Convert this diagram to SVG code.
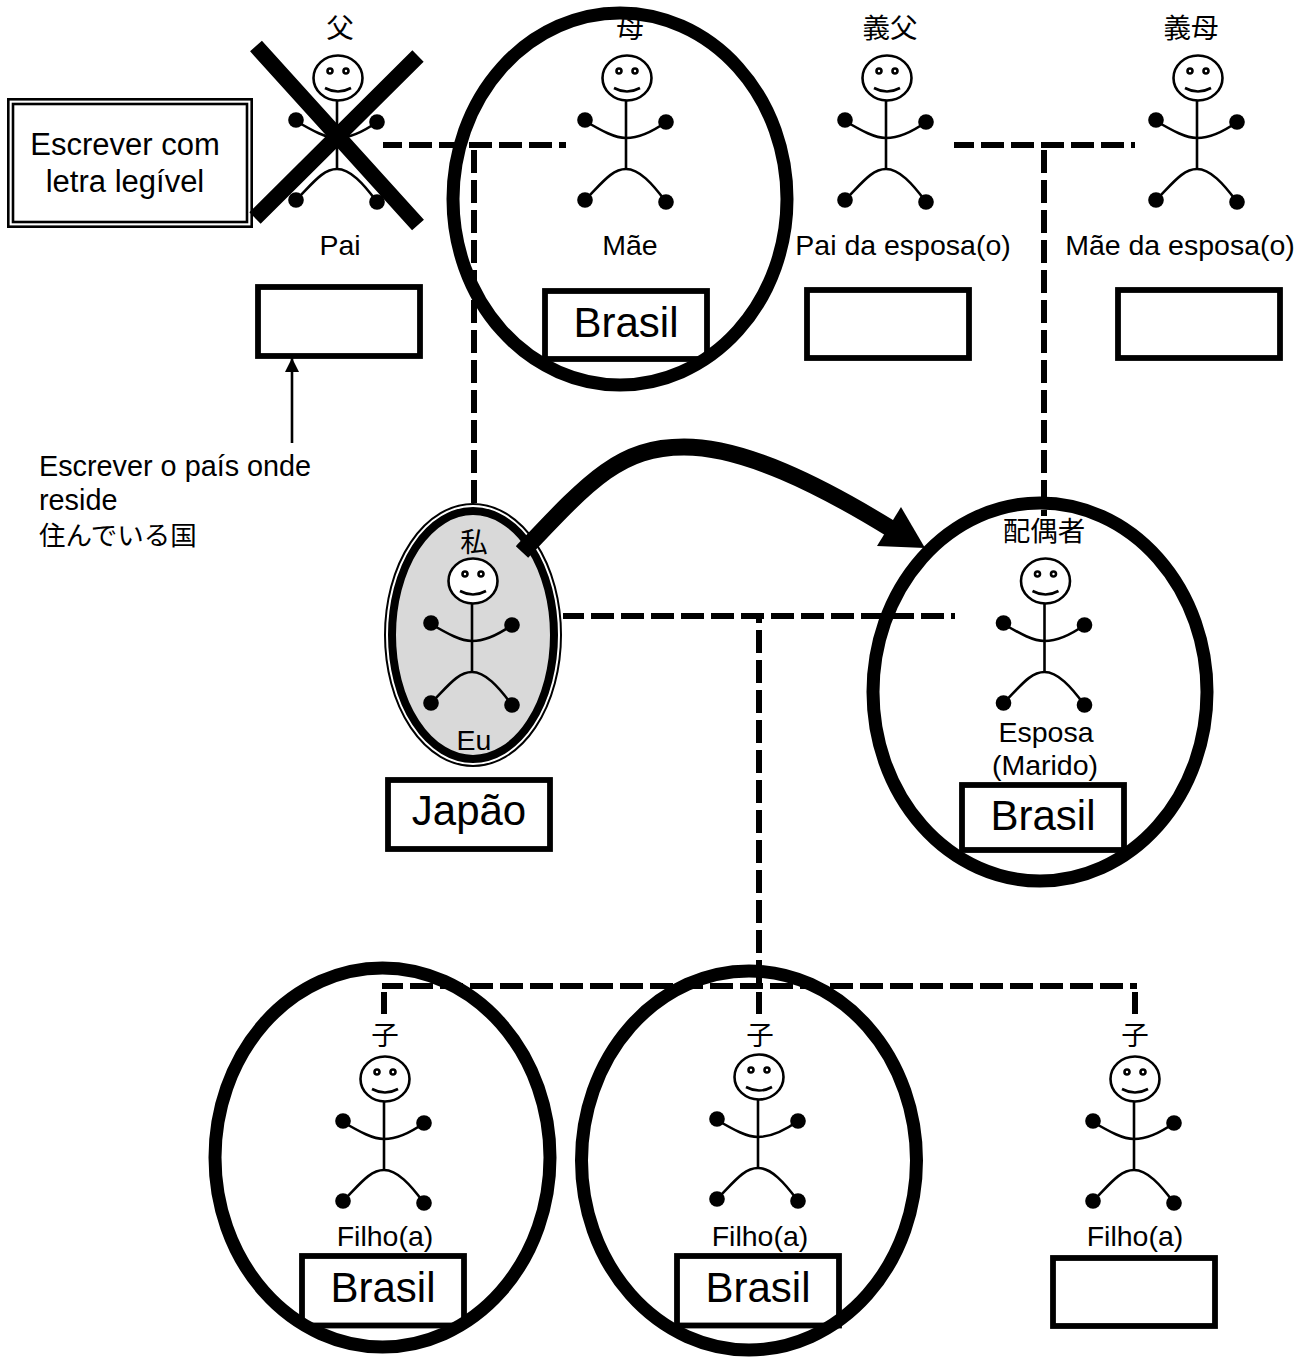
<svg xmlns="http://www.w3.org/2000/svg" xmlns:xlink="http://www.w3.org/1999/xlink" width="1298" height="1357" viewBox="0 0 1298 1357">
<style>
text{font-family:"Liberation Sans","Noto Sans CJK JP",sans-serif;fill:#000;text-anchor:middle}
.l{font-size:28.500px}
.n{font-size:31px}
.j{font-size:27.500px;font-family:"Noto Sans CJK JP",sans-serif}
.c{font-size:42px}
.s{font-size:28.800px;text-anchor:start}
.js{font-size:26.500px;font-family:"Noto Sans CJK JP",sans-serif;text-anchor:start}
.box{fill:#fff;stroke:#000;stroke-width:5.800}
.ring{fill:none;stroke:#000;stroke-width:13}
.dash{fill:none;stroke:#000;stroke-width:6;stroke-dasharray:23 7}
.solid{fill:none;stroke:#000;stroke-width:6}
.f{fill:none;stroke:#000;stroke-width:2.600}
.h{fill:#000;stroke:none}
</style>
<defs>
<marker id="a" markerUnits="userSpaceOnUse" markerWidth="16" markerHeight="14" refX="14" refY="7" orient="auto"><path d="M0,0L14,7L0,14z" fill="#000"/></marker>
<g id="fig">
<ellipse cx="0" cy="0" rx="24.500" ry="22.500" fill="#fff" stroke="#000" stroke-width="2.600"/>
<circle class="f" cx="-8" cy="-7" r="2.500"/><circle class="f" cx="8" cy="-7" r="2.500"/>
<path class="f" d="M-13,10Q0,17 13,10"/>
<path class="f" d="M-1,23V90"/>
<path class="f" d="M-42,43C-25,53 -12,60 -1,60C12,60 25,54 39,44"/>
<path class="f" d="M-42,122C-25,105 -15,91 -1,91C12,91 25,105 39,124"/>
<circle class="h" cx="-42" cy="42" r="7.800"/><circle class="h" cx="39" cy="44" r="7.800"/>
<circle class="h" cx="-42" cy="122" r="7.800"/><circle class="h" cx="39" cy="124" r="7.800"/>
</g>
</defs>
<g id="connectors">
<path class="dash" d="M383,145H566" stroke-dashoffset="4"/>
<path class="dash" d="M474,150V510"/>
<path class="dash" d="M954,145H1135" stroke-dashoffset="3"/>
<path class="dash" d="M1044,150V516"/>
<path class="dash" d="M563,616H955" stroke-dashoffset="2"/>
<path class="dash" d="M759,616V985" stroke-dashoffset="16"/>
<path class="solid" d="M759,992V1014"/>
<path class="dash" d="M382,986H1137" stroke-dashoffset="2"/>
<path class="solid" d="M384,992V1014"/>
<path class="solid" d="M1135,992V1014"/>
<path d="M292,443V358" fill="none" stroke="#000" stroke-width="2.600" marker-end="url(#a)"/>
</g>
<g id="note"><rect x="8.300" y="99.300" width="243.400" height="127.400" fill="#fff" stroke="#000" stroke-width="2.600"/><rect x="13" y="104" width="234" height="118" fill="none" stroke="#000" stroke-width="2.600"/><text class="n" x="125" y="155">Escrever com</text><text class="n" x="125" y="191.500">letra legível</text></g>
<g id="pai"><text class="j" x="340" y="38">父</text><use xlink:href="#fig" href="#fig" x="338" y="78"/><text class="l" x="340" y="255">Pai</text><rect class="box" x="258" y="287" width="162" height="69"/>
<path d="M256,46L418,225M418,56L255,218" stroke="#000" stroke-width="16" fill="none"/></g>
<g id="mae"><text class="j" x="630" y="38">母</text><use xlink:href="#fig" href="#fig" x="627" y="78"/><text class="l" x="630" y="255">Mãe</text><rect class="box" x="545" y="291" width="162" height="68"/><text class="c" x="626" y="337">Brasil</text><ellipse class="ring" cx="620" cy="199" rx="167" ry="186"/></g>
<g id="pai-esposa"><text class="j" x="890" y="38">義父</text><use xlink:href="#fig" href="#fig" x="887" y="78"/><text class="l" x="903" y="255">Pai da esposa(o)</text><rect class="box" x="807" y="290" width="162" height="68"/></g>
<g id="mae-esposa"><text class="j" x="1191" y="38">義母</text><use xlink:href="#fig" href="#fig" x="1198" y="78"/><text class="l" x="1180" y="255">Mãe da esposa(o)</text><rect class="box" x="1118" y="290" width="162" height="68"/></g>
<g id="label-pais"><text class="s" x="39" y="476">Escrever o país onde</text><text class="s" x="39" y="510">reside</text><text class="js" x="39" y="545">住んでいる国</text></g>
<g id="eu"><ellipse cx="473" cy="635" rx="88" ry="131" fill="#fff" stroke="#000" stroke-width="2"/><ellipse cx="473" cy="635" rx="81" ry="124" fill="#d9d9d9" stroke="#000" stroke-width="8"/><text class="j" x="474" y="552">私</text><use xlink:href="#fig" href="#fig" x="473" y="581"/><text class="l" x="474" y="750">Eu</text><rect class="box" x="388" y="780" width="162" height="69"/><text class="c" x="469" y="825">Japão</text></g>
<g id="esposa"><text class="j" x="1044" y="541">配偶者</text><use xlink:href="#fig" href="#fig" x="1045.500" y="581"/><text class="l" x="1046" y="741.500">Esposa</text><text class="l" x="1045" y="775">(Marido)</text><rect class="box" x="962" y="785" width="162" height="65"/><text class="c" x="1043" y="830">Brasil</text><ellipse class="ring" cx="1040" cy="692" rx="167" ry="189"/></g>
<g id="filho1"><text class="j" x="385" y="1045">子</text><use xlink:href="#fig" href="#fig" x="385" y="1079"/><text class="l" x="385" y="1246">Filho(a)</text><rect class="box" x="302" y="1256" width="162" height="69.500"/><text class="c" x="383" y="1302">Brasil</text><ellipse class="ring" cx="382.500" cy="1157.500" rx="167.500" ry="189.500"/></g>
<g id="filho2"><text class="j" x="760" y="1045">子</text><use xlink:href="#fig" href="#fig" x="759" y="1077"/><text class="l" x="760" y="1246">Filho(a)</text><rect class="box" x="677" y="1256" width="162" height="69.500"/><text class="c" x="758" y="1302">Brasil</text><ellipse class="ring" cx="749" cy="1160.500" rx="167.500" ry="189.500"/></g>
<g id="filho3"><text class="j" x="1135" y="1045">子</text><use xlink:href="#fig" href="#fig" x="1135" y="1079"/><text class="l" x="1135" y="1246">Filho(a)</text><rect class="box" x="1053" y="1258" width="162" height="68"/></g>
<g id="seta"><path d="M522,552C590,480 620,447 684,447C744,447 820,485 893,530" fill="none" stroke="#000" stroke-width="17"/><path d="M925,548L901,507L877,546z" fill="#000"/></g>
</svg>
